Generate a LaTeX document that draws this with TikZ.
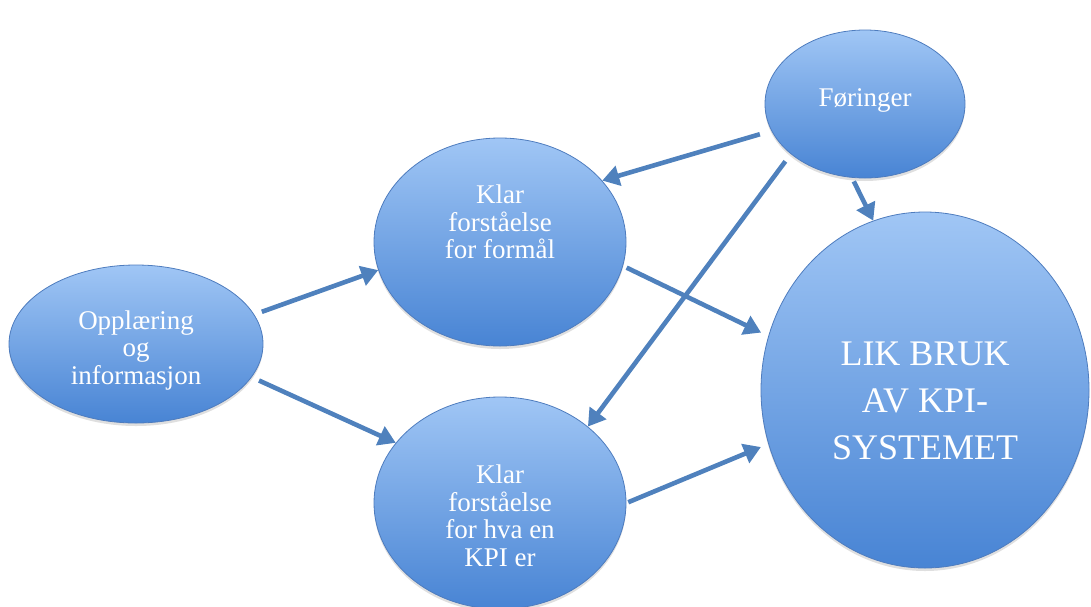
\documentclass[tikz,border=0pt]{standalone}
\usepackage{fontspec}
\setmainfont{Liberation Serif}
\usetikzlibrary{shapes.geometric,arrows.meta,shadows}
\definecolor{arrowblue}{RGB}{79,129,189}
\definecolor{topblue}{RGB}{160,198,245}
\definecolor{botblue}{RGB}{72,132,212}
\definecolor{edgeblue}{RGB}{78,124,190}
\begin{document}
\begin{tikzpicture}[x=1pt,y=-1pt,
  bub/.style={ellipse, draw=edgeblue, line width=0.8pt, top color=topblue, bottom color=botblue, inner sep=0pt,
    drop shadow={opacity=0.25, shadow xshift=0pt, shadow yshift=-3pt}},
  txt/.style={text=white, align=center, font=\fontsize{27}{27.5}\selectfont},
  arr/.style={draw=arrowblue, line width=4.6pt, -{Triangle[length=17pt,width=20pt]}, shorten <=8pt}]
\useasboundingbox (0,0) rectangle (1091,606);
\node[bub, minimum width=254pt, minimum height=158pt] (op) at (136,344) {};
\node[bub, minimum width=252pt, minimum height=208pt] (kf) at (500,242) {};
\node[bub, minimum width=252pt, minimum height=212pt] (kpi) at (500,503) {};
\node[bub, minimum width=200pt, minimum height=148pt] (fo) at (865,104) {};
\node[bub, minimum width=328pt, minimum height=356pt] (lik) at (925,390) {};
\draw[arr] (op.14) -- (kf.193);
\draw[arr] (op.-16) -- (kpi.150);
\draw[arr, shorten <=12pt] (fo.196) -- (kf.31);
\draw[arr, shorten <=9pt] (fo.214) -- (kpi.41);
\draw[arr, shorten <=4pt] (fo.260) -- (lik.107);
\draw[arr, shorten <=4pt, shorten >=8pt] (kf.-11) -- (lik.161);
\draw[arr, shorten <=2pt, shorten >=8pt] (kpi.0) -- (lik.199);
\node[txt] (opt) at (136,350) {Opplæring\\og\\informasjon};
\node[txt] (kft) at (500,222) {Klar\\forståelse\\for formål};
\node[txt] (kpit) at (500,516) {Klar\\forståelse\\for hva en\\KPI er};
\node[txt] (fot) at (865,100) {Føringer};
\node[txt, font=\fontsize{36}{47}\selectfont] (likt) at (925,401) {LIK BRUK\\AV KPI-\\SYSTEMET};
\end{tikzpicture}
\end{document}
